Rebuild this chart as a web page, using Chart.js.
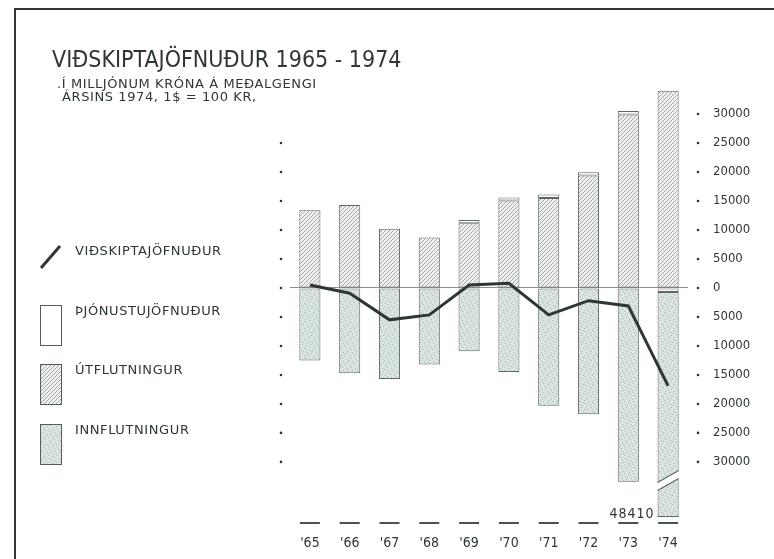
<!DOCTYPE html>
<html>
<head>
<meta charset="utf-8">
<script src="https://cdn.jsdelivr.net/npm/chart.js@4/dist/chart.umd.min.js"></script>
<style>
  html, body { margin: 0; padding: 0; background: #fff; }
  canvas { display: block; }
</style>
</head>
<body>
<canvas id="trade-chart" width="774" height="559"></canvas>
<script>
"use strict";

var years = ["'65", "'66", "'67", "'68", "'69", "'70", "'71", "'72", "'73", "'74"];
var exportsValues = [13400, 14300, 10200, 8700, 11150, 15100, 15500, 19400, 29900, 34000];
var servicesValues = [0, 0, 0, 0, 550, 500, 600, 550, 600, -700];
var importsValues = [-12500, -14700, -15700, -13200, -10900, -14500, -20300, -21800, -33400, -48410];
var balanceValues = [500, -900, -5500, -4650, 500, 800, -4650, -2200, -3100, -16900];
var tickValues = [30000, 25000, 20000, 15000, 10000, 5000, 0, -5000, -10000, -15000, -20000, -25000, -30000];
var leftDotValues = [25000, 20000, 15000, 10000, 5000, 0, -5000, -10000, -15000, -20000, -25000, -30000];
var brokenLabel = "48410";

var FONT = "'DejaVu Sans Condensed', 'DejaVu Sans', sans-serif";
var WIDE = "'DejaVu Sans', sans-serif";
var INK = "#2f3733";

function hatchPattern() {
  var c = document.createElement("canvas");
  var s = 4;
  c.width = s;
  c.height = s;
  var g = c.getContext("2d");
  g.fillStyle = "#eff1ee";
  g.fillRect(0, 0, s, s);
  g.strokeStyle = "#8e9692";
  g.lineWidth = 0.8;
  g.beginPath();
  g.moveTo(-1, 1); g.lineTo(1, -1);
  g.moveTo(0, s); g.lineTo(s, 0);
  g.moveTo(s - 1, s + 1); g.lineTo(s + 1, s - 1);
  g.stroke();
  return g.createPattern(c, "repeat");
}

function stipplePattern() {
  var c = document.createElement("canvas");
  c.width = 9;
  c.height = 9;
  var g = c.getContext("2d");
  g.fillStyle = "#dbe5df";
  g.fillRect(0, 0, 9, 9);
  g.fillStyle = "#a9b6af";
  var dots = [[1, 1], [5, 2], [3, 5], [7, 6], [0, 7], [6, 0], [2, 3], [8, 4], [4, 8]];
  dots.forEach(function (d) { g.fillRect(d[0], d[1], 1, 1); });
  return g.createPattern(c, "repeat");
}

var hatch = hatchPattern();
var stipple = stipplePattern();

function spaced(ctx, px) {
  if ("letterSpacing" in ctx) {
    ctx.letterSpacing = px + "px";
  }
}

var decorations = {
  id: "decorations",
  afterDatasetsDraw: function (chart) {
    var ctx = chart.ctx;
    var x = chart.scales.x;
    var y = chart.scales.y;
    var area = chart.chartArea;
    var meta = chart.getDatasetMeta(3);
    var bar = meta.data[9];
    var half = bar.width / 2;
    var l = bar.x - half;
    var r = bar.x + half;
    var yb = y.getPixelForValue(-33200);
    ctx.save();
    // axis break on the 1974 import bar
    ctx.fillStyle = "#fff";
    ctx.beginPath();
    ctx.moveTo(l - 1, yb + 2);
    ctx.lineTo(r + 1, yb - 10);
    ctx.lineTo(r + 1, yb - 2);
    ctx.lineTo(l - 1, yb + 10);
    ctx.closePath();
    ctx.fill();
    ctx.strokeStyle = "#5f6763";
    ctx.lineWidth = 1.2;
    ctx.beginPath();
    ctx.moveTo(l, yb + 2); ctx.lineTo(r, yb - 10);
    ctx.moveTo(l, yb + 10); ctx.lineTo(r, yb - 2);
    ctx.moveTo(l, area.bottom - 0.5); ctx.lineTo(r, area.bottom - 0.5);
    ctx.stroke();
    // value of the broken bar
    ctx.fillStyle = INK;
    ctx.font = "14px " + FONT;
    spaced(ctx, 1);
    ctx.textAlign = "right";
    ctx.textBaseline = "middle";
    ctx.fillText(brokenLabel, l - 3, area.bottom - 3);
    // short rules above the year labels
    ctx.strokeStyle = "#4a524e";
    ctx.lineWidth = 2;
    years.forEach(function (yr, i) {
      var px = x.getPixelForValue(i);
      ctx.beginPath();
      ctx.moveTo(px - 10, area.bottom + 6);
      ctx.lineTo(px + 10, area.bottom + 6);
      ctx.stroke();
    });
    ctx.restore();
  },
  afterDraw: function (chart) {
    var ctx = chart.ctx;
    var y = chart.scales.y;
    ctx.save();
    // frame
    ctx.strokeStyle = "#333";
    ctx.lineWidth = 2;
    ctx.beginPath();
    ctx.moveTo(774, 9);
    ctx.lineTo(15, 9);
    ctx.lineTo(15, 559);
    ctx.stroke();
    // dots of the two value axes
    ctx.fillStyle = "#333";
    tickValues.forEach(function (v) {
      ctx.beginPath();
      ctx.arc(698, y.getPixelForValue(v), 1.3, 0, Math.PI * 2);
      ctx.fill();
    });
    leftDotValues.forEach(function (v) {
      ctx.beginPath();
      ctx.arc(281, y.getPixelForValue(v), 1.3, 0, Math.PI * 2);
      ctx.fill();
    });
    // title
    ctx.fillStyle = INK;
    ctx.textAlign = "left";
    ctx.textBaseline = "alphabetic";
    ctx.font = "23px " + FONT;
    spaced(ctx, 0);
    ctx.fillText("VIÐSKIPTAJÖFNUÐUR 1965 - 1974", 52, 67);
    ctx.font = "13px " + WIDE;
    spaced(ctx, 0.6);
    ctx.fillText(".Í MILLJÓNUM KRÓNA Á MEÐALGENGI", 57, 88);
    ctx.fillText("ÁRSINS 1974, 1$ = 100 KR,", 62, 101);
    // legend
    ctx.textBaseline = "middle";
    ctx.strokeStyle = INK;
    ctx.lineWidth = 3;
    ctx.beginPath();
    ctx.moveTo(41, 268);
    ctx.lineTo(60, 246);
    ctx.stroke();
    ctx.fillText("VIÐSKIPTAJÖFNUÐUR", 75, 252);
    var boxes = [
      { fill: "#fff", top: 305, text: "ÞJÓNUSTUJÖFNUÐUR" },
      { fill: hatch, top: 364, text: "ÚTFLUTNINGUR" },
      { fill: stipple, top: 424, text: "INNFLUTNINGUR" }
    ];
    boxes.forEach(function (b) {
      ctx.fillStyle = b.fill;
      ctx.fillRect(40, b.top, 21, 40);
      ctx.strokeStyle = "#555d59";
      ctx.lineWidth = 1;
      ctx.strokeRect(40.5, b.top + 0.5, 21, 40);
      ctx.fillStyle = INK;
      ctx.fillText(b.text, 75, b.top + 7);
    });
    ctx.restore();
  }
};

var barBorder = "#5f6763";

new Chart(document.getElementById("trade-chart"), {
  type: "bar",
  data: {
    labels: years,
    datasets: [
      {
        label: "VIÐSKIPTAJÖFNUÐUR",
        type: "line",
        data: balanceValues,
        borderColor: INK,
        borderWidth: 3,
        pointRadius: 0,
        tension: 0,
        stack: "line",
        order: 1
      },
      {
        label: "ÚTFLUTNINGUR",
        data: exportsValues,
        backgroundColor: hatch,
        borderColor: barBorder,
        borderWidth: 1,
        borderSkipped: false,
        stack: "trade",
        order: 2
      },
      {
        label: "ÞJÓNUSTUJÖFNUÐUR",
        data: servicesValues,
        backgroundColor: "#fff",
        borderColor: barBorder,
        borderWidth: 1,
        borderSkipped: false,
        stack: "trade",
        order: 2
      },
      {
        label: "INNFLUTNINGUR",
        data: importsValues,
        backgroundColor: stipple,
        borderColor: barBorder,
        borderWidth: 1,
        borderSkipped: false,
        stack: "trade",
        order: 2
      }
    ]
  },
  options: {
    responsive: false,
    animation: false,
    layout: { padding: { left: 290, top: 85, right: 0, bottom: 0 } },
    datasets: { bar: { barPercentage: 0.53, categoryPercentage: 1 } },
    plugins: {
      legend: { display: false },
      tooltip: { enabled: false }
    },
    scales: {
      x: {
        stacked: true,
        offset: true,
        grid: { display: false },
        border: { display: false },
        ticks: { color: INK, font: { size: 14, family: FONT }, padding: 10 },
        afterFit: function (scale) { scale.height = 42; }
      },
      y: {
        position: "right",
        stacked: true,
        min: -39500,
        max: 35000,
        afterBuildTicks: function (scale) {
          scale.ticks = tickValues.map(function (v) { return { value: v }; });
        },
        grid: {
          drawTicks: false,
          lineWidth: 1,
          color: function (c) {
            return c.tick && c.tick.value === 0 ? "#8a918d" : "rgba(0,0,0,0)";
          }
        },
        border: { display: false },
        ticks: {
          color: INK,
          font: { size: 13, family: FONT },
          padding: 25,
          callback: function (v) { return String(Math.abs(v)); }
        },
        afterFit: function (scale) { scale.width = 86; }
      }
    }
  },
  plugins: [decorations]
});
</script>
</body>
</html>
